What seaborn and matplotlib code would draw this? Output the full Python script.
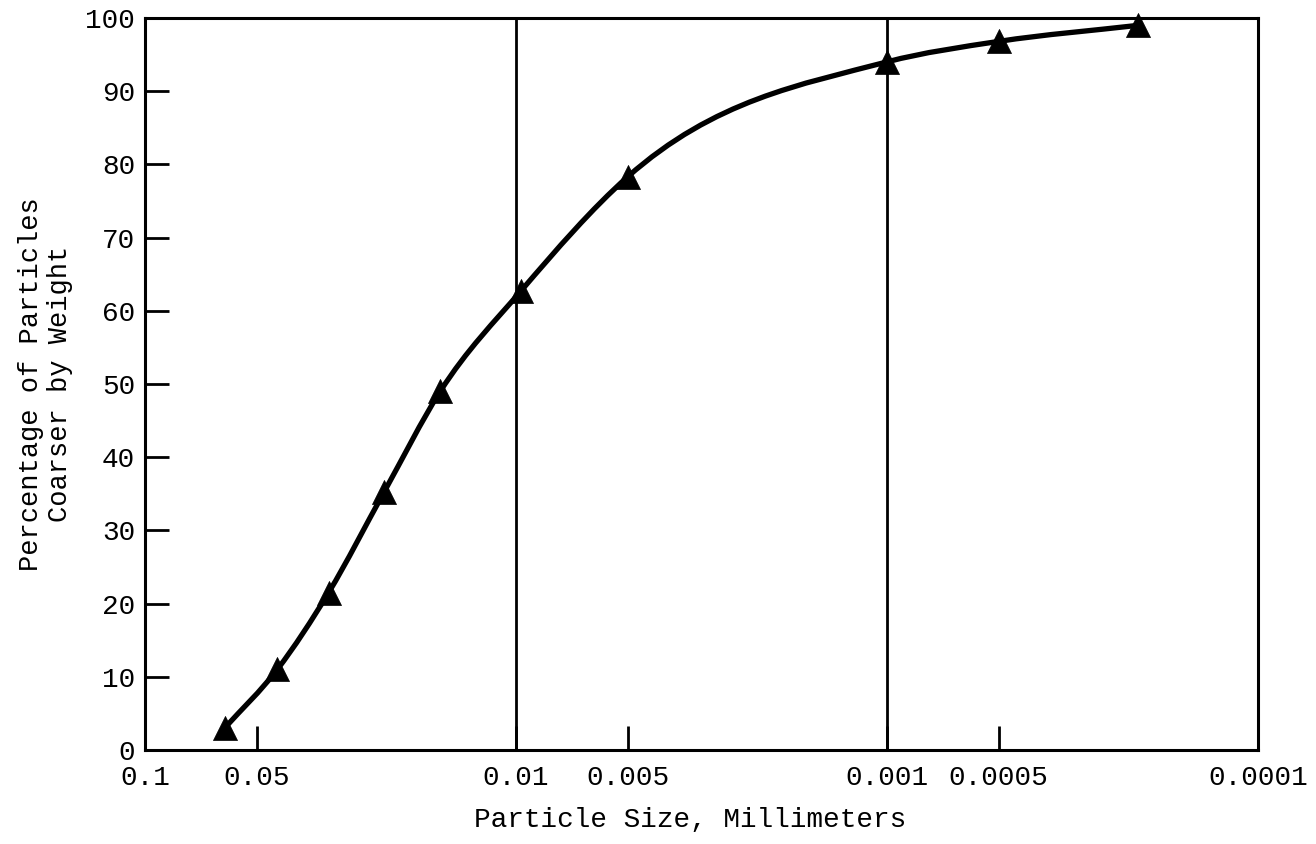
import numpy as np
import pandas as pd
import matplotlib
matplotlib.use("Agg")
import matplotlib.pyplot as plt
from matplotlib.path import Path
from matplotlib.patches import PathPatch
import seaborn as sns

# values
size_mm = [0.061, 0.044, 0.032, 0.0227, 0.016, 0.0097, 0.005, 0.001, 0.0005, 0.00021]
pct_coarser = [3.0, 11.0, 21.5, 35.2, 49.0, 62.7, 78.3, 94.0, 96.8, 99.0]

x_ticks = [0.1, 0.05, 0.01, 0.005, 0.001, 0.0005, 0.0001]
x_tick_labels = ["0.1", "0.05", "0.01", "0.005", "0.001", "0.0005", "0.0001"]
y_ticks = list(range(0, 101, 10))
grid_sizes = [0.01, 0.001]

df = pd.DataFrame({"size": size_mm, "pct": pct_coarser})

sns.set_style("white")
plt.rcParams["font.family"] = ["Liberation Mono", "DejaVu Sans Mono"]

fig = plt.figure(figsize=(13.16, 8.44), dpi=100)
ax = fig.add_axes([0.1102, 0.1114, 0.8457, 0.8673])
ax.set_xscale("log")
ax.set_xlim(0.1, 0.0001)
ax.set_ylim(0, 100)

for g in grid_sizes:
    ax.axvline(g, color="black", lw=2.0, zorder=1)


def smooth_path(xs, ys):
    # hand-drawn looking curve: cubic Hermite in log-x space, drawn as Bezier
    u = np.log10(np.asarray(xs))
    y = np.asarray(ys)
    h = np.diff(u)
    d = np.diff(y) / h
    m = np.empty_like(y)
    m[0], m[-1] = d[0], d[-1]
    for k in range(1, len(y) - 1):
        m[k] = (h[k] * d[k - 1] + h[k - 1] * d[k]) / (h[k - 1] + h[k])
    verts = [(10 ** u[0], y[0])]
    codes = [Path.MOVETO]
    for k in range(len(h)):
        c1 = (10 ** (u[k] + h[k] / 3), y[k] + m[k] * h[k] / 3)
        c2 = (10 ** (u[k + 1] - h[k] / 3), y[k + 1] - m[k + 1] * h[k] / 3)
        verts += [c1, c2, (10 ** u[k + 1], y[k + 1])]
        codes += [Path.CURVE4] * 3
    return Path(verts, codes)


ax.add_patch(PathPatch(smooth_path(size_mm, pct_coarser), fill=False,
                       edgecolor="black", lw=3.8, capstyle="round",
                       joinstyle="round", zorder=3))

sns.scatterplot(data=df, x="size", y="pct", marker="^", s=300, color="black",
                edgecolor="black", linewidth=0.5, ax=ax, zorder=4, clip_on=False)

ax.set_xticks(x_ticks)
ax.set_xticklabels(x_tick_labels)
ax.xaxis.set_minor_locator(matplotlib.ticker.NullLocator())
ax.set_yticks(y_ticks)
ax.tick_params(axis="both", which="major", direction="in", length=17, width=2,
               color="black", labelsize=20, labelcolor="black",
               bottom=True, left=True, top=False, right=False)
ax.tick_params(axis="x", pad=11)
ax.tick_params(axis="y", pad=7)

for sp in ax.spines.values():
    sp.set_visible(True)
    sp.set_color("black")
    sp.set_linewidth(2.2)

ax.set_xlabel("Particle Size, Millimeters", fontsize=20, color="black")
ax.xaxis.set_label_coords(0.49, -0.078)
ax.set_ylabel("Percentage of Particles\nCoarser by Weight", fontsize=19.5,
              labelpad=9, color="black", linespacing=1.15)

fig.savefig("out.png", dpi=100, facecolor="white")
